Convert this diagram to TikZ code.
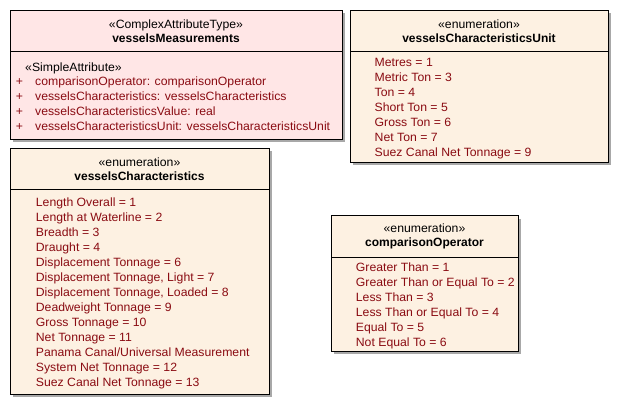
\documentclass[tikz,border=0pt]{standalone}
\usepackage{fontspec}
\setmainfont{Liberation Sans}[FakeStretch=1.02, BoldFeatures={FakeStretch=1.0}]
\usetikzlibrary{shadows}
\definecolor{pinkfill}{HTML}{FFE6E6}
\definecolor{beigefill}{HTML}{FDF1E2}
\definecolor{itemred}{HTML}{8A0B12}
\definecolor{shadowgray}{HTML}{A8A8A8}
\begin{document}
\begin{tikzpicture}[x=1pt,y=-1pt,
  umlbox/.style={draw=black, line width=0.9pt, anchor=north west, inner sep=0pt, outer sep=0pt,
    drop shadow={shadow xshift=3pt, shadow yshift=-3pt, fill=shadowgray, opacity=1}},
  pinkbox/.style={umlbox, fill=pinkfill},
  beigebox/.style={umlbox, fill=beigefill},
  divline/.style={draw=black, line width=0.9pt},
  stereo/.style={inner sep=0pt, anchor=base, font=\fontsize{12}{14}\selectfont},
  cname/.style={inner sep=0pt, anchor=base, font=\fontsize{12}{14}\selectfont\bfseries},
  item/.style={inner sep=0pt, anchor=base west, text=itemred, font=\fontsize{12}{14}\selectfont},
  plus/.style={inner sep=0pt, anchor=base, text=itemred, font=\fontsize{12}{14}\selectfont},
]
\useasboundingbox (0,0) rectangle (619,404);

% ---------- vesselsMeasurements ----------
\node[pinkbox, minimum width=332pt, minimum height=129pt] (b1) at (10,10) {};
\draw[divline] (10,51.5) -- (342,51.5);
\node[stereo] (b1s) at (176,28.5) {«ComplexAttributeType»};
\node[cname] (b1n) at (176,42.5) {vesselsMeasurements};
\node[item, text=black] (b1sa) at (25,71.5) {«SimpleAttribute»};
\node[plus] (p1) at (19.5,85.5) {+};
\node[plus] (p2) at (19.5,100.5) {+};
\node[plus] (p3) at (19.5,115.5) {+};
\node[plus] (p4) at (19.5,130.5) {+};
\node[item] (a1) at (35,85.5) {comparisonOperator: comparisonOperator};
\node[item] (a2) at (35,100.5) {vesselsCharacteristics: vesselsCharacteristics};
\node[item] (a3) at (35,115.5) {vesselsCharacteristicsValue: real};
\node[item] (a4) at (35,130.5) {vesselsCharacteristicsUnit: vesselsCharacteristicsUnit};

% ---------- vesselsCharacteristicsUnit ----------
\node[beigebox, minimum width=258pt, minimum height=152pt] (b2) at (350,10) {};
\draw[divline] (350,51.5) -- (608,51.5);
\node[stereo] (b2s) at (479,28.5) {«enumeration»};
\node[cname] (b2n) at (479,42.5) {vesselsCharacteristicsUnit};
\node[item] (u1) at (374.5,66.7) {Metres = 1};
\node[item] (u2) at (374.5,81.7) {Metric Ton = 3};
\node[item] (u3) at (374.5,96.7) {Ton = 4};
\node[item] (u4) at (374.5,111.7) {Short Ton = 5};
\node[item] (u5) at (374.5,126.7) {Gross Ton = 6};
\node[item] (u6) at (374.5,141.7) {Net Ton = 7};
\node[item] (u7) at (374.5,156.7) {Suez Canal Net Tonnage = 9};

% ---------- vesselsCharacteristics ----------
\node[beigebox, minimum width=259pt, minimum height=246pt] (b3) at (10,148) {};
\draw[divline] (10,189.5) -- (269,189.5);
\node[stereo] (b3s) at (139.5,166.5) {«enumeration»};
\node[cname] (b3n) at (139.5,180.5) {vesselsCharacteristics};
\node[item] (c1) at (35.7,206) {Length Overall = 1};
\node[item] (c2) at (35.7,221) {Length at Waterline = 2};
\node[item] (c3) at (35.7,236) {Breadth = 3};
\node[item] (c4) at (35.7,251) {Draught = 4};
\node[item] (c5) at (35.7,266) {Displacement Tonnage = 6};
\node[item] (c6) at (35.7,281) {Displacement Tonnage, Light = 7};
\node[item] (c7) at (35.7,296) {Displacement Tonnage, Loaded = 8};
\node[item] (c8) at (35.7,311) {Deadweight Tonnage = 9};
\node[item] (c9) at (35.7,326) {Gross Tonnage = 10};
\node[item] (c10) at (35.7,341) {Net Tonnage = 11};
\node[item] (c11) at (35.7,356) {Panama Canal/Universal Measurement};
\node[item] (c12) at (35.7,371) {System Net Tonnage = 12};
\node[item] (c13) at (35.7,386) {Suez Canal Net Tonnage = 13};

% ---------- comparisonOperator ----------
\node[beigebox, minimum width=187pt, minimum height=135.5pt] (b4) at (331,215.5) {};
\draw[divline] (331,257) -- (518,257);
\node[stereo] (b4s) at (424.5,232.5) {«enumeration»};
\node[cname] (b4n) at (424.5,246.5) {comparisonOperator};
\node[item] (o1) at (355.7,271.7) {Greater Than = 1};
\node[item] (o2) at (355.7,286.7) {Greater Than or Equal To = 2};
\node[item] (o3) at (355.7,301.7) {Less Than = 3};
\node[item] (o4) at (355.7,316.7) {Less Than or Equal To = 4};
\node[item] (o5) at (355.7,331.7) {Equal To = 5};
\node[item] (o6) at (355.7,346.7) {Not Equal To = 6};
\end{tikzpicture}
\end{document}
